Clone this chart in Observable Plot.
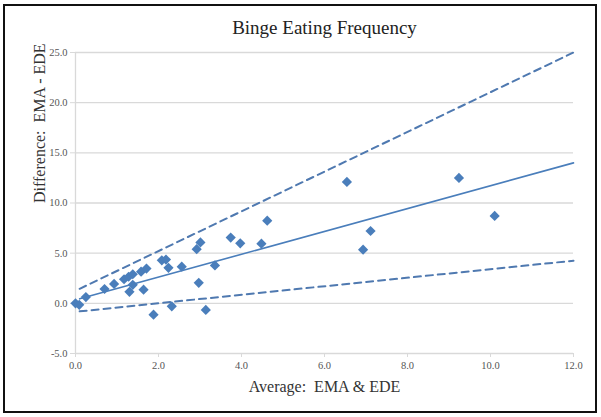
<!DOCTYPE html>
<html>
<head>
<meta charset="utf-8">
<script src="https://cdn.jsdelivr.net/npm/d3@7"></script>
<script src="https://cdn.jsdelivr.net/npm/@observablehq/plot@0.6"></script>
<style>
  html, body { margin: 0; padding: 0; background: #fff; }
  #wrap { position: relative; width: 601px; height: 417px; overflow: hidden; }
  #frame { position: absolute; left: 3px; top: 4px; width: 590px; height: 405px; border: 2.5px solid #111; pointer-events: none; }
  svg text { font-family: 'Liberation Serif', serif; }
</style>
</head>
<body>
<div id="wrap"><div id="frame"></div></div>
<script>
const title = "Binge Eating Frequency";
const xLabel = "Average:\u00a0 EMA & EDE";
const yLabel = "Difference:\u00a0 EMA - EDE";

// Bland-Altman points: average (x) and difference (y)
const avgVals  = [0.0, 0.09, 0.25, 0.70, 0.93, 1.17, 1.28, 1.38, 1.30, 1.38, 1.64, 1.58, 1.71, 1.88, 2.08, 2.18, 2.24, 2.32, 2.56, 2.92, 3.01, 2.97, 3.14, 3.36, 3.74, 3.97, 4.48, 4.62, 6.54, 6.93, 7.11, 9.24, 10.10];
const diffVals = [0.0, -0.15, 0.62, 1.43, 1.93, 2.40, 2.65, 2.90, 1.15, 1.85, 1.36, 3.15, 3.46, -1.13, 4.29, 4.36, 3.54, -0.30, 3.65, 5.40, 6.07, 2.04, -0.66, 3.78, 6.55, 5.98, 5.95, 8.24, 12.10, 5.35, 7.21, 12.50, 8.71];

// regression and limit lines (endpoints)
const lineX  = [0.1, 12.0];
const fitY   = [0.45, 14.0];
const upperY = [1.45, 25.0];
const lowerY = [-0.8, 4.25];

const xTicks = [0, 2, 4, 6, 8, 10, 12];
const yTicks = [-5, 0, 5, 10, 15, 20, 25];

const points = avgVals.map((x, i) => ({x, y: diffVals[i]}));
const fit = lineX.map((x, i) => ({x, y: fitY[i]}));
const upper = lineX.map((x, i) => ({x, y: upperY[i]}));
const lower = lineX.map((x, i) => ({x, y: lowerY[i]}));

const blue = "#4a7ebb";
const grid = "#d9d9d9";
const tickText = "#555555";
const serif = "'Liberation Serif', serif";

const chart = Plot.plot({
  width: 601,
  height: 417,
  marginLeft: 75,
  marginRight: 28,
  marginTop: 52,
  marginBottom: 64,
  x: {domain: [0, 12]},
  y: {domain: [-5, 25]},
  style: {fontFamily: serif, background: "transparent", overflow: "visible"},
  marks: [
    Plot.gridY(yTicks, {stroke: grid, strokeOpacity: 1, strokeWidth: 1.3}),
    Plot.ruleX([0], {stroke: grid, strokeWidth: 1.3}),
    Plot.axisY(yTicks, {tickFormat: d => d.toFixed(1), tickSize: 5, tickPadding: 3, stroke: grid, fill: tickText, fontSize: 10.5, fontFamily: serif, label: null}),
    Plot.axisX(xTicks, {tickFormat: d => d.toFixed(1), tickSize: 4, tickPadding: 4, stroke: grid, fill: tickText, fontSize: 10.5, fontFamily: serif, label: null}),
    Plot.line(upper, {x: "x", y: "y", stroke: "#4f79b0", strokeWidth: 2, strokeDasharray: "7,5"}),
    Plot.line(lower, {x: "x", y: "y", stroke: "#4f79b0", strokeWidth: 2, strokeDasharray: "7,5"}),
    Plot.line(fit, {x: "x", y: "y", stroke: blue, strokeWidth: 1.6}),
    Plot.dot(points, {x: "x", y: "y", symbol: "diamond2", r: 4.6, fill: blue, stroke: "none"}),
    Plot.text([title], {frameAnchor: "top", lineAnchor: "middle", dy: -25, fontSize: 19, fill: "#222", fontFamily: serif}),
    Plot.text([xLabel], {frameAnchor: "bottom", lineAnchor: "middle", dy: 33, fontSize: 16, fill: "#333", fontFamily: serif}),
    Plot.text([yLabel], {frameAnchor: "left", lineAnchor: "middle", dx: -36, rotate: -90, fontSize: 16, fill: "#333", fontFamily: serif})
  ]
});
document.getElementById("wrap").prepend(chart);
</script>
</body>
</html>
